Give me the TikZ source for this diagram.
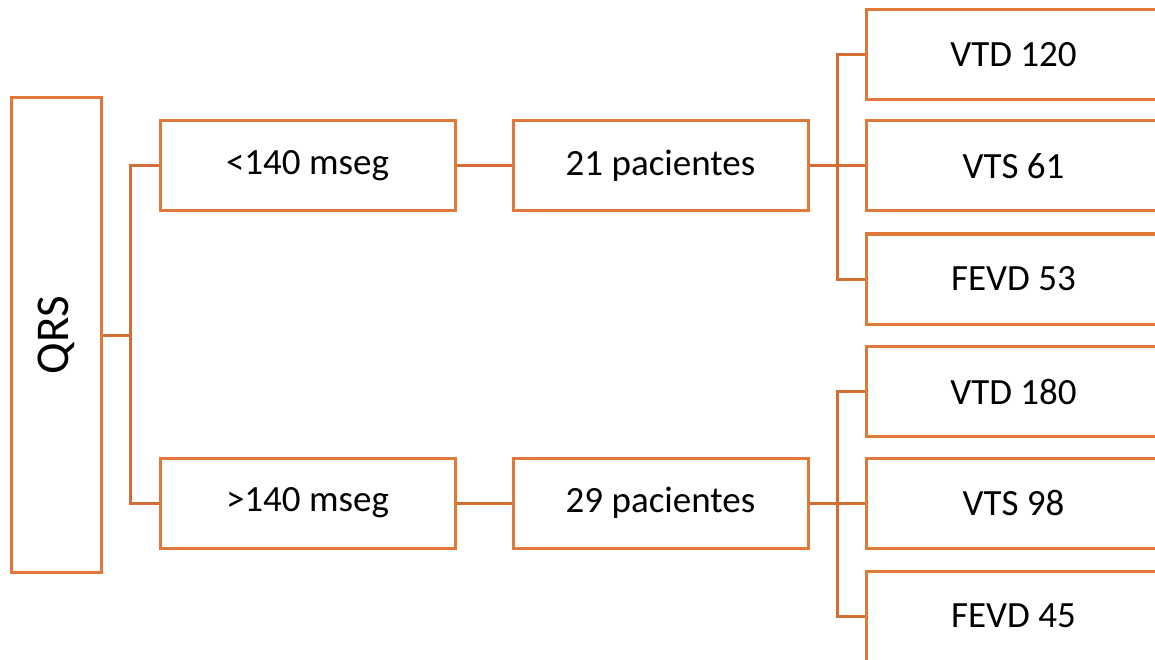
\documentclass[tikz,border=0pt]{standalone}
\usepackage{fontspec}
\setmainfont{Carlito}
\definecolor{boxline}{HTML}{E0783A}
\definecolor{linkline}{HTML}{D26E32}
\begin{document}
\begin{tikzpicture}[x=1pt,y=-1pt,
  box/.style={draw=boxline, line width=3pt, fill=white, rectangle,
    minimum width=295pt, minimum height=90pt, inner sep=0pt,
    font=\fontsize{37}{44}\selectfont},
  link/.style={draw=linkline, line width=3pt, line join=miter}]
\useasboundingbox (0,0) rectangle (1155,660);
\clip (0,0) rectangle (1155,660);
% root box, text turned upright
\node[box, minimum width=90pt, minimum height=474pt] (qrs) at (56,335) {};
\node[rotate=90, font=\fontsize{47}{56}\selectfont] at (qrs.center) {QRS};
% QRS duration groups
\node[box] (lt) at (307.5,166) {<140 mseg};
\node[box] (gt) at (307.5,503) {>140 mseg};
\node[box] (p21) at (660.5,166) {21 pacientes};
\node[box] (p29) at (660.5,503) {29 pacientes};
% ventricular measures
\node[box] (vtd1) at (1013.5,54.5) {VTD 120};
\node[box] (vts1) at (1013.5,166) {VTS 61};
\node[box] (fev1) at (1013.5,279) {FEVD 53};
\node[box] (vtd2) at (1013.5,391.5) {VTD 180};
\node[box] (vts2) at (1013.5,503) {VTS 98};
\node[box] (fev2) at (1013.5,616) {FEVD 45};
% connectors
\coordinate (j0) at (130,335);
\draw[link] (qrs.east) -- (j0);
\draw[link] (j0) |- (lt.west);
\draw[link] (j0) |- (gt.west);
\draw[link] (lt.east) -- (p21.west);
\draw[link] (gt.east) -- (p29.west);
\coordinate (j1) at (837,166);
\draw[link] (p21.east) -- (j1);
\draw[link] (j1) |- (vtd1.west);
\draw[link] (j1) |- (fev1.west);
\draw[link] (j1) -- (vts1.west);
\coordinate (j2) at (837,503);
\draw[link] (p29.east) -- (j2);
\draw[link] (j2) |- (vtd2.west);
\draw[link] (j2) |- (fev2.west);
\draw[link] (j2) -- (vts2.west);
\end{tikzpicture}
\end{document}
